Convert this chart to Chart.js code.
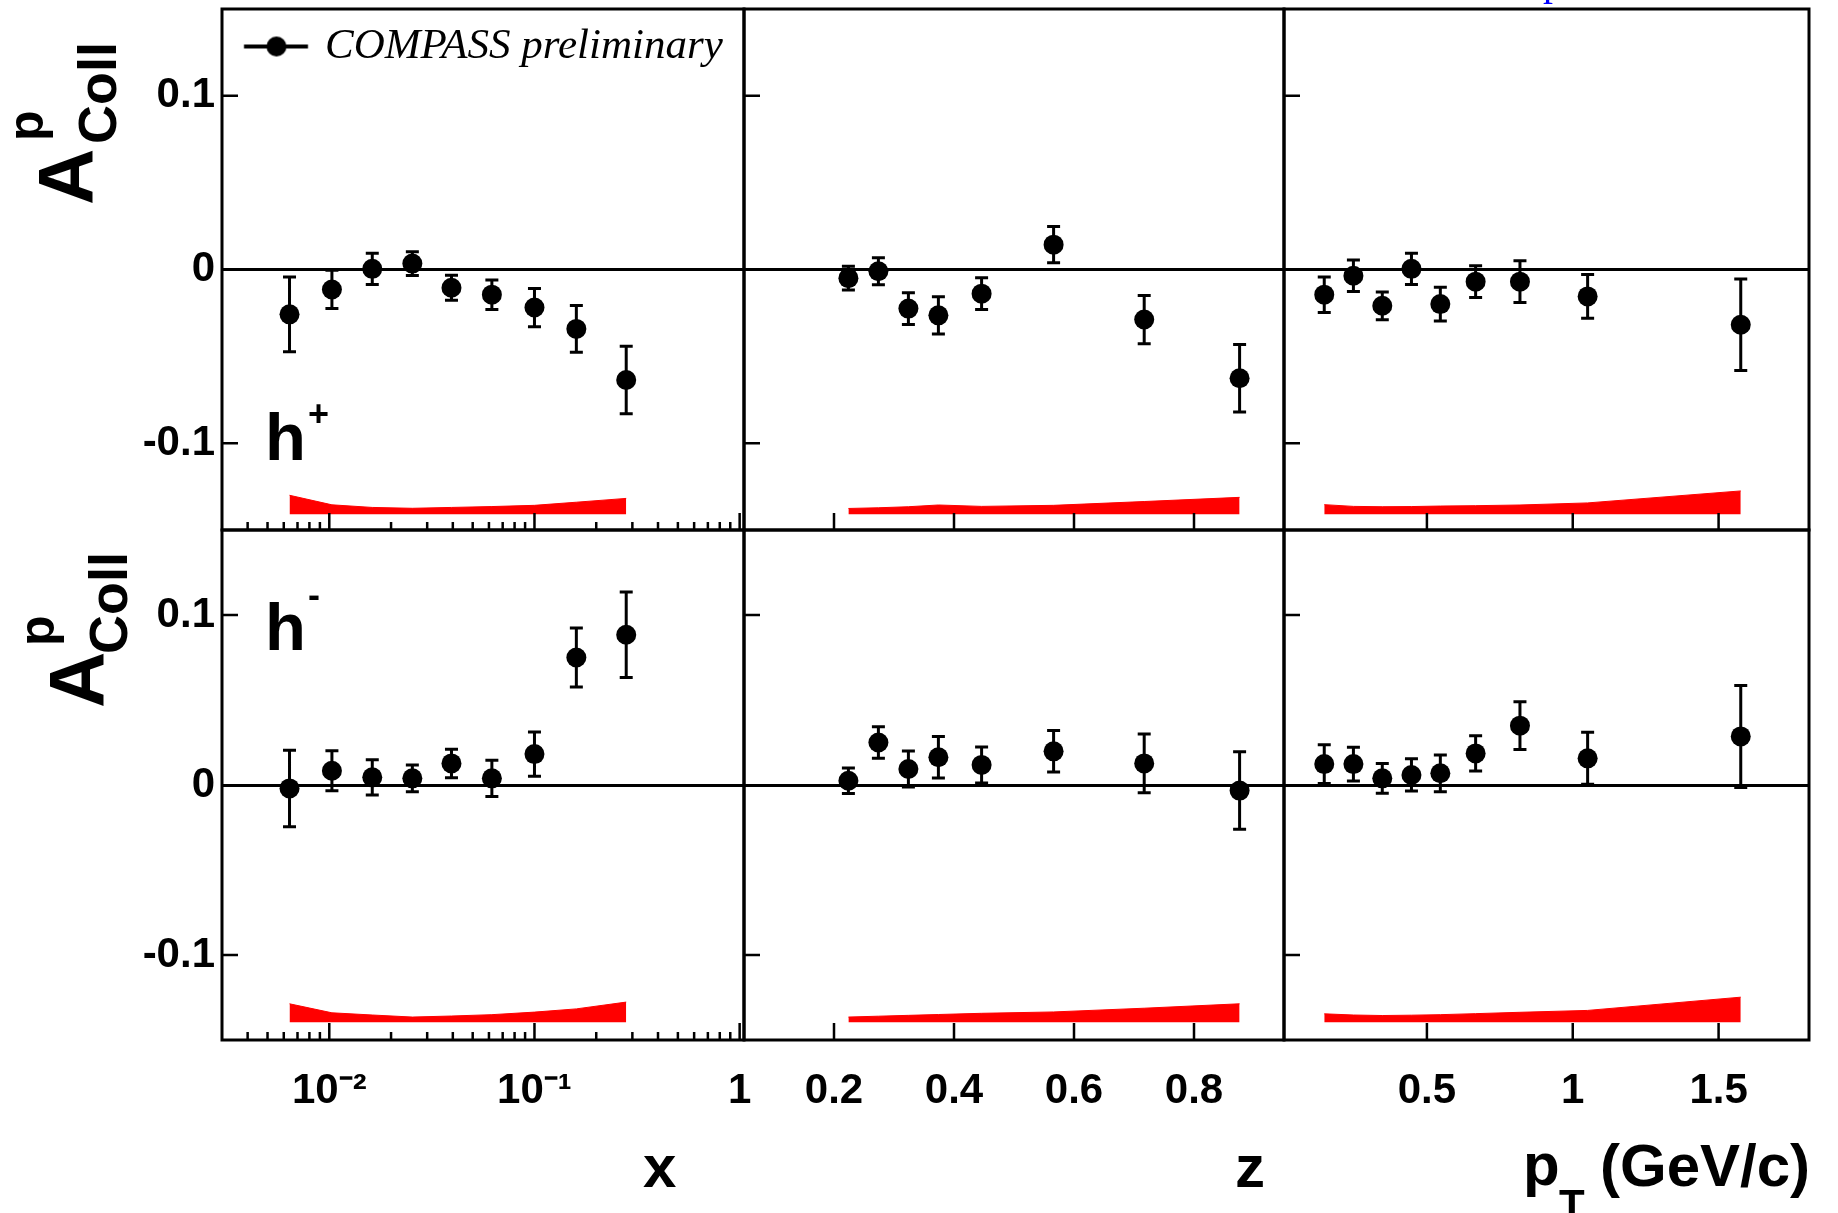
<!DOCTYPE html>
<html>
<head>
<meta charset="utf-8">
<script src="https://cdn.jsdelivr.net/npm/chart.js@4.4.0/dist/chart.umd.min.js"></script>
<style>
  body { margin: 0; background: #fff; }
  #page { position: relative; width: 1838px; height: 1213px; overflow: hidden; background: #fff; }
  #page canvas { position: absolute; left: 0; top: 0; }
  .lbl { position: absolute; white-space: nowrap; font-family: "Liberation Sans", Arial, sans-serif;
         font-weight: bold; line-height: 1; color: #000; }
  .rot { transform-origin: 0 0; transform: rotate(-90deg); }
</style>
</head>
<body>
<div id="page">
  <canvas id="c00" width="1838" height="1213"></canvas>
  <canvas id="c01" width="1838" height="1213"></canvas>
  <canvas id="c02" width="1838" height="1213"></canvas>
  <canvas id="c10" width="1838" height="1213"></canvas>
  <canvas id="c11" width="1838" height="1213"></canvas>
  <canvas id="c12" width="1838" height="1213"></canvas>

  <!-- y titles -->
  <div class="lbl rot" style="left:27px;top:205px;font-size:78px">A</div>
  <div class="lbl rot" style="left:70px;top:144px;font-size:54px">Coll</div>
  <div class="lbl rot" style="left:1px;top:141px;font-size:50px">p</div>
  <div class="lbl rot" style="left:38px;top:708px;font-size:78px">A</div>
  <div class="lbl rot" style="left:81px;top:654px;font-size:54px">Coll</div>
  <div class="lbl rot" style="left:12px;top:646px;font-size:50px">p</div>

  <!-- hadron charge -->
  <div class="lbl" style="left:265px;top:403px;font-size:67px">h</div>
  <div class="lbl" style="left:308px;top:396px;font-size:36px">+</div>
  <div class="lbl" style="left:265px;top:593px;font-size:67px">h</div>
  <div class="lbl" style="left:308px;top:577px;font-size:36px">-</div>

  <!-- x titles -->
  <div class="lbl" style="left:643px;top:1137px;font-size:60px">x</div>
  <div class="lbl" style="left:1235px;top:1137px;font-size:60px">z</div>
  <div class="lbl" style="left:1523px;top:1135px;font-size:60px">p</div>
  <div class="lbl" style="left:1559px;top:1184px;font-size:42px">T</div>
  <div class="lbl" style="left:1600px;top:1136px;font-size:60px">(GeV/c)</div>

  <div style="position:absolute;left:1543px;top:-38px;font:40px 'Liberation Serif',serif;line-height:1;color:#0000ff">p</div>
</div>

<script>
// bin centres
const xBins  = [0.0064, 0.0103, 0.0162, 0.0254, 0.0394, 0.0620, 0.100, 0.160, 0.280];
const zBins  = [0.224, 0.274, 0.324, 0.374, 0.446, 0.566, 0.717, 0.876];
const ptBins = [0.148, 0.248, 0.347, 0.447, 0.546, 0.667, 0.819, 1.051, 1.576];

// h+ asymmetries, stat errors, systematic band
const hpX     = [-0.0258, -0.0115, 0.0004, 0.0034, -0.0105, -0.0145, -0.0219, -0.0342, -0.0636];
const hpXErr  = [0.0215, 0.0110, 0.0090, 0.0068, 0.0072, 0.0085, 0.0110, 0.0134, 0.0194];
const hpXSys  = [0.0110, 0.0055, 0.0040, 0.0035, 0.0040, 0.0045, 0.0052, 0.0070, 0.0092];

const hpZ     = [-0.0050, -0.0010, -0.0225, -0.0264, -0.0139, 0.0143, -0.0288, -0.0626];
const hpZErr  = [0.0068, 0.0078, 0.0091, 0.0107, 0.0091, 0.0104, 0.0139, 0.0194];
const hpZSys  = [0.0034, 0.0038, 0.0044, 0.0054, 0.0046, 0.0052, 0.0074, 0.0098];

const hpPt    = [-0.0145, -0.0036, -0.0209, 0.0004, -0.0199, -0.0070, -0.0070, -0.0155, -0.0318];
const hpPtErr = [0.0102, 0.0091, 0.0080, 0.0090, 0.0097, 0.0091, 0.0120, 0.0126, 0.0263];
const hpPtSys = [0.0056, 0.0046, 0.0044, 0.0045, 0.0048, 0.0050, 0.0054, 0.0066, 0.0135];

// h- asymmetries
const hmX     = [-0.0020, 0.0084, 0.0045, 0.0039, 0.0127, 0.0039, 0.0182, 0.0750, 0.0884];
const hmXErr  = [0.0225, 0.0118, 0.0104, 0.0078, 0.0084, 0.0106, 0.0130, 0.0173, 0.0251];
const hmXSys  = [0.0108, 0.0055, 0.0042, 0.0030, 0.0036, 0.0044, 0.0059, 0.0078, 0.0118];

const hmZ     = [0.0025, 0.0250, 0.0094, 0.0163, 0.0118, 0.0198, 0.0127, -0.0033];
const hmZErr  = [0.0075, 0.0092, 0.0106, 0.0122, 0.0106, 0.0122, 0.0173, 0.0228];
const hmZSys  = [0.0030, 0.0035, 0.0040, 0.0045, 0.0052, 0.0060, 0.0082, 0.0108];

const hmPt    = [0.0123, 0.0123, 0.0039, 0.0059, 0.0069, 0.0186, 0.0349, 0.0157, 0.0286];
const hmPtErr = [0.0114, 0.0099, 0.0088, 0.0095, 0.0108, 0.0103, 0.0140, 0.0153, 0.0300];
const hmPtSys = [0.0049, 0.0042, 0.0039, 0.0041, 0.0044, 0.0050, 0.0058, 0.0069, 0.0147];

// level the systematic band sits on
const bandBaseTop = -0.141;
const bandBaseBottom = -0.1395;

// ticks
const yTicks = [-0.1, 0, 0.1];
const yTickLabels = ['-0.1', '0', '0.1'];
const xTicks = [0.01, 0.1, 1];
const xTickLabels = ['10\u207B\u00B2', '10\u207B\u00B9', '1'];
const xMinorTicks = [0.004, 0.005, 0.006, 0.007, 0.008, 0.009,
                     0.02, 0.03, 0.04, 0.05, 0.06, 0.07, 0.08, 0.09,
                     0.2, 0.3, 0.4, 0.5, 0.6, 0.7, 0.8, 0.9];
const zTicks = [0.2, 0.4, 0.6, 0.8];
const zTickLabels = ['0.2', '0.4', '0.6', '0.8'];
const ptTicks = [0.5, 1, 1.5];
const ptTickLabels = ['0.5', '1', '1.5'];

Chart.defaults.font.family = '"Liberation Sans", Arial, sans-serif';
Chart.defaults.color = '#000';

const W = 1838, H = 1213;
const Y_AXIS_W = 120, X_AXIS_H = 100;   // room for tick labels (left column / bottom row)
const cols = [
  {left: 222, right: 744, type: 'logarithmic', min: 0.003, max: 1.05, ticks: xTicks, labels: xTickLabels, minor: xMinorTicks},
  {left: 744, right: 1284, type: 'linear', min: 0.05, max: 0.95, ticks: zTicks, labels: zTickLabels, minor: []},
  {left: 1284, right: 1809, type: 'linear', min: 0.01, max: 1.81, ticks: ptTicks, labels: ptTickLabels, minor: []}
];
const rows = [
  {top: 9, bottom: 530, base: bandBaseTop},
  {top: 530, bottom: 1040, base: bandBaseBottom}
];

// ROOT style frame with inward ticks
const frameTicks = {
  id: 'frameTicks',
  afterDraw(chart, args, opts) {
    const {ctx, chartArea: a} = chart;
    const xs = chart.scales.x, ys = chart.scales.y;
    ctx.save();
    ctx.strokeStyle = '#000';
    ctx.lineWidth = 2.5;
    ctx.beginPath();
    opts.major.forEach(v => {
      const px = xs.getPixelForValue(v);
      ctx.moveTo(px, a.bottom); ctx.lineTo(px, a.bottom - 17);
    });
    opts.minor.forEach(v => {
      const px = xs.getPixelForValue(v);
      ctx.moveTo(px, a.bottom); ctx.lineTo(px, a.bottom - 8);
    });
    yTicks.forEach(v => {
      if (v === 0) return;
      const py = ys.getPixelForValue(v);
      ctx.moveTo(a.left, py); ctx.lineTo(a.left + 16, py);
    });
    ctx.stroke();
    ctx.lineWidth = 3;
    ctx.strokeRect(a.left, a.top, a.right - a.left, a.bottom - a.top);
    ctx.restore();
  }
};

const errorBars = {
  id: 'errorBars',
  beforeDatasetsDraw(chart) {
    const {ctx} = chart;
    const xs = chart.scales.x, ys = chart.scales.y;
    chart.data.datasets.forEach(ds => {
      if (!ds.errors) return;
      ctx.save();
      ctx.strokeStyle = '#000';
      ctx.lineWidth = 3;
      ctx.beginPath();
      ds.data.forEach((p, j) => {
        const px = xs.getPixelForValue(p.x);
        const hi = ys.getPixelForValue(p.y + ds.errors[j]);
        const lo = ys.getPixelForValue(p.y - ds.errors[j]);
        ctx.moveTo(px, hi); ctx.lineTo(px, lo);
        ctx.moveTo(px - 6.5, hi); ctx.lineTo(px + 6.5, hi);
        ctx.moveTo(px - 6.5, lo); ctx.lineTo(px + 6.5, lo);
      });
      ctx.stroke();
      ctx.restore();
    });
  }
};

// legend symbol: line with a dot
const legendMark = document.createElement('canvas');
legendMark.width = 80; legendMark.height = 26;
(function () {
  const g = legendMark.getContext('2d');
  g.strokeStyle = '#000'; g.fillStyle = '#000'; g.lineWidth = 4;
  g.beginPath(); g.moveTo(8.75, 13); g.lineTo(72.75, 13); g.stroke();
  g.beginPath(); g.arc(41.25, 13, 10, 0, Math.PI * 2); g.fill();
})();

function makePanel(id, c, r, bins, vals, errs, sys, showLegend) {
  const col = cols[c], row = rows[r];
  const yw = c === 0 ? Y_AXIS_W : 0;
  const xh = r === 1 ? X_AXIS_H : 0;
  const band = bins.map((v, i) => ({x: v, y: row.base + sys[i]}));
  const pts = bins.map((v, i) => ({x: v, y: vals[i]}));

  new Chart(document.getElementById(id), {
    type: 'scatter',
    data: {
      datasets: [{
        type: 'line',
        label: 'syst',
        data: band,
        borderColor: '#ff0000',
        borderWidth: 1,
        backgroundColor: '#ff0000',
        pointRadius: 0,
        tension: 0,
        fill: {value: row.base},
        order: 2
      }, {
        label: 'COMPASS preliminary',
        data: pts,
        errors: errs,
        backgroundColor: '#000',
        borderWidth: 0,
        pointRadius: 10,
        pointHoverRadius: 10,
        order: 1
      }]
    },
    options: {
      responsive: false,
      animation: false,
      devicePixelRatio: 1,
      events: [],
      layout: {
        autoPadding: false,
        padding: {left: col.left - yw, right: W - col.right, top: row.top, bottom: H - row.bottom - xh}
      },
      scales: {
        x: {
          type: col.type,
          min: col.min,
          max: col.max,
          bounds: 'data',
          grid: {display: false},
          border: {display: false},
          afterBuildTicks: s => { s.ticks = col.ticks.map(v => ({value: v})); },
          afterFit: s => { s.height = xh; s.paddingLeft = 0; s.paddingRight = 0; },
          ticks: {
            display: r === 1,
            autoSkip: false,
            maxRotation: 0,
            padding: 18,
            font: {size: 42, weight: 'bold'},
            callback: (v, i) => col.labels[i]
          }
        },
        y: {
          type: 'linear',
          min: -0.15,
          max: 0.15,
          bounds: 'data',
          grid: {
            drawTicks: false,
            lineWidth: 3,
            color: ctx => (ctx.tick && ctx.tick.value === 0) ? '#000' : 'rgba(0,0,0,0)'
          },
          border: {display: false},
          afterBuildTicks: s => { s.ticks = yTicks.map(v => ({value: v})); },
          afterFit: s => { s.width = yw; s.paddingTop = 0; s.paddingBottom = 0; },
          ticks: {
            display: c === 0,
            padding: 7,
            font: {size: 42, weight: 'bold'},
            callback: (v, i) => yTickLabels[i]
          }
        }
      },
      plugins: {
        tooltip: {enabled: false},
        frameTicks: {major: col.ticks, minor: col.minor},
        legend: {
          display: showLegend,
          position: 'chartArea',
          align: 'start',
          labels: {
            usePointStyle: true,
            pointStyle: legendMark,
            pointStyleWidth: 56.5,
            padding: 25,
            color: '#000',
            font: {family: '"Liberation Serif", "Times New Roman", serif', style: 'italic', size: 43},
            filter: item => item.text !== 'syst'
          }
        }
      }
    },
    plugins: [errorBars, frameTicks]
  });
}

makePanel('c00', 0, 0, xBins, hpX, hpXErr, hpXSys, true);
makePanel('c01', 1, 0, zBins, hpZ, hpZErr, hpZSys, false);
makePanel('c02', 2, 0, ptBins, hpPt, hpPtErr, hpPtSys, false);
makePanel('c10', 0, 1, xBins, hmX, hmXErr, hmXSys, false);
makePanel('c11', 1, 1, zBins, hmZ, hmZErr, hmZSys, false);
makePanel('c12', 2, 1, ptBins, hmPt, hmPtErr, hmPtSys, false);
</script>
</body>
</html>
